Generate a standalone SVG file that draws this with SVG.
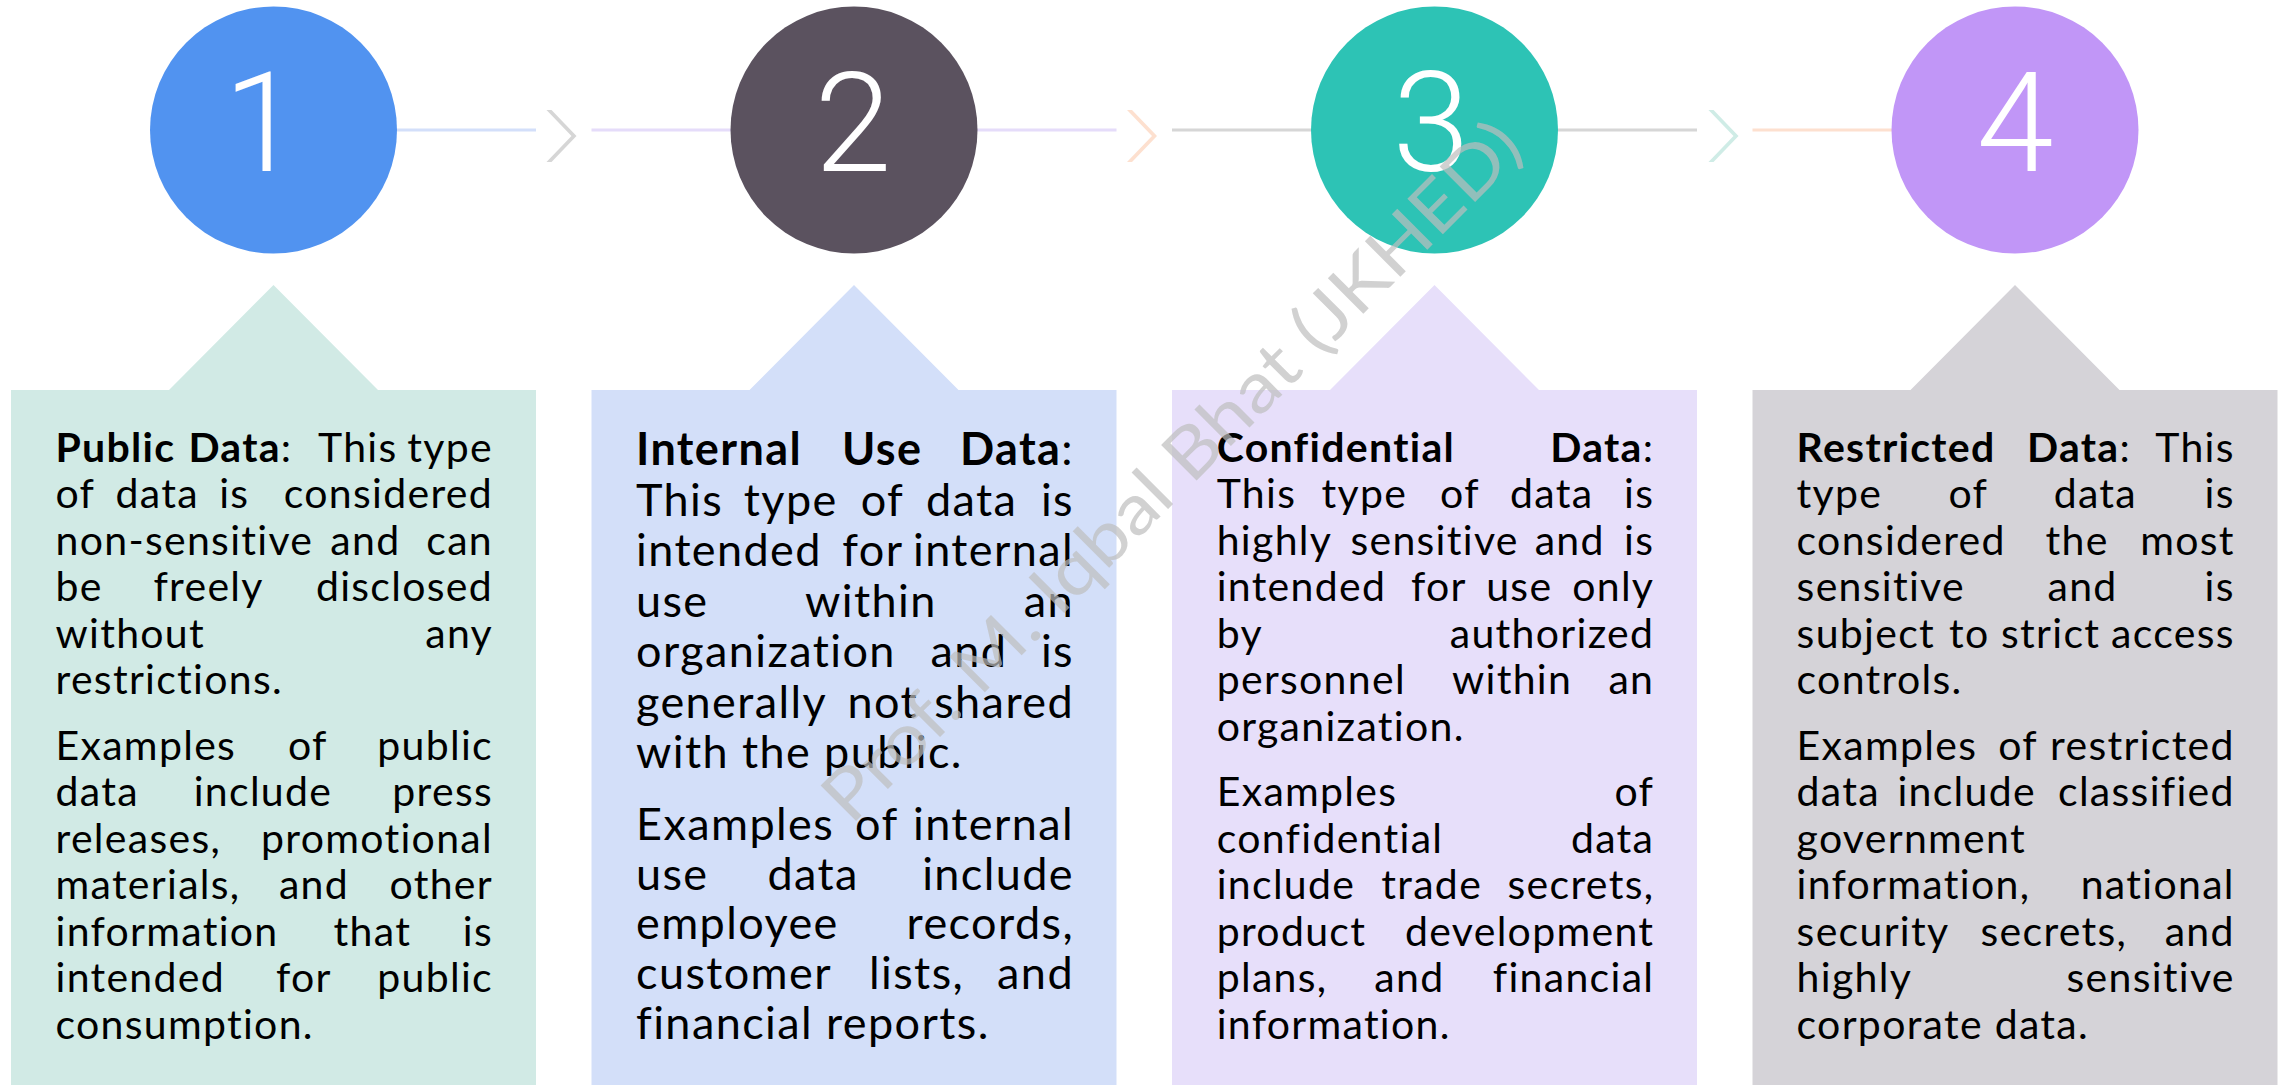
<svg xmlns="http://www.w3.org/2000/svg" width="2282" height="1085" viewBox="0 0 2282 1085">
  <style>
    .num { font-family: Roboto, Lato, "Open Sans", sans-serif; font-weight: 300; font-size: 139px; fill: #ffffff; text-anchor: middle; }
    .t { font-family: Lato, "Open Sans", "Liberation Sans", sans-serif; font-size: 41px; letter-spacing: 1.3px; fill: #000000; font-variant-ligatures: none; }
    .t2 { font-family: Lato, "Open Sans", "Liberation Sans", sans-serif; font-size: 45px; letter-spacing: 1.4px; fill: #000000; font-variant-ligatures: none; }
    .b { font-weight: 700; }
    .e { text-anchor: end; }
    .wm { font-family: Lato, "Open Sans", "Liberation Sans", sans-serif; font-size: 70px; fill: #bdbdbd; fill-opacity: 0.7; }
  </style>

  <!-- connectors: thin rules between the circles with chevrons in the gaps -->
  <g id="connectors">
    <rect x="397" y="128.5" width="139" height="3" fill="#d3dffa"/>
    <polygon points="546.5,110 551.5,110 576.5,136 551.5,162 546.5,162 571.5,136" fill="#d6d6d6"/>
    <rect x="591.5" y="128.5" width="140" height="3" fill="#e5dcfa"/>

    <rect x="977" y="128.5" width="139.5" height="3" fill="#e5dcfa"/>
    <polygon points="1127,110 1132,110 1157,136 1132,162 1127,162 1152,136" fill="#fde0cf"/>
    <rect x="1172" y="128.5" width="140" height="3" fill="#d6d6d6"/>

    <rect x="1557" y="128.5" width="140" height="3" fill="#d6d6d6"/>
    <polygon points="1708.5,110 1713.5,110 1738.5,136 1713.5,162 1708.5,162 1733.5,136" fill="#cfece6"/>
    <rect x="1752.5" y="128.5" width="140" height="3" fill="#fde0cf"/>
  </g>

  <!-- 1: public data -->
  <g id="node-1">
    <path d="M11,390 H169 L273.5,285 L378,390 H536 V1085 H11 Z" fill="#d1eae5"/>
    <circle cx="273.5" cy="130" r="123.5" fill="#5193f0"/>
    <text class="num" x="262" y="171">1</text>
    <text class="t" y="461.5"><tspan x="55.5" class="b">Public</tspan><tspan x="188.4" class="b">Data</tspan><tspan>:</tspan><tspan x="318">This</tspan><tspan x="493" class="e">type</tspan></text>
    <text class="t" y="508"><tspan x="55.5">of</tspan><tspan x="115.6">data</tspan><tspan x="219.2">is</tspan><tspan x="493" class="e">considered</tspan></text>
    <text class="t" y="554.5"><tspan x="55.5">non-sensitive</tspan><tspan x="330.3">and</tspan><tspan x="493" class="e">can</tspan></text>
    <text class="t" y="601"><tspan x="55.5">be</tspan><tspan x="153.4">freely</tspan><tspan x="493" class="e">disclosed</tspan></text>
    <text class="t" y="647.5"><tspan x="55.5">without</tspan><tspan x="493" class="e">any</tspan></text>
    <text class="t" x="55.5" y="694">restrictions.</text>
    <text class="t" y="759.5"><tspan x="55.5">Examples</tspan><tspan x="288">of</tspan><tspan x="493" class="e">public</tspan></text>
    <text class="t" y="806"><tspan x="55.5">data</tspan><tspan x="193.7">include</tspan><tspan x="493" class="e">press</tspan></text>
    <text class="t" y="852.5"><tspan x="55.5">releases,</tspan><tspan x="493" class="e">promotional</tspan></text>
    <text class="t" y="899"><tspan x="55.5">materials,</tspan><tspan x="278.9">and</tspan><tspan x="493" class="e">other</tspan></text>
    <text class="t" y="945.5"><tspan x="55.5">information</tspan><tspan x="333.6">that</tspan><tspan x="493" class="e">is</tspan></text>
    <text class="t" y="992"><tspan x="55.5">intended</tspan><tspan x="276">for</tspan><tspan x="493" class="e">public</tspan></text>
    <text class="t" x="55.5" y="1038.5">consumption.</text>
  </g>

  <!-- 2: internal use data -->
  <g id="node-2">
    <path d="M591.5,390 H749.5 L854,285 L958.5,390 H1116.5 V1085 H591.5 Z" fill="#d3dff9"/>
    <circle cx="854" cy="130" r="123.5" fill="#5b525f"/>
    <text class="num" x="853" y="171">2</text>
    <text class="t2" y="465"><tspan x="636" class="b">Internal</tspan><tspan x="842" class="b">Use</tspan><tspan x="1074" class="e b">Data</tspan><tspan>:</tspan></text>
    <text class="t2" y="515.5"><tspan x="636">This</tspan><tspan x="743.8">type</tspan><tspan x="860.7">of</tspan><tspan x="926">data</tspan><tspan x="1074" class="e">is</tspan></text>
    <text class="t2" y="566"><tspan x="636">intended</tspan><tspan x="842.3">for</tspan><tspan x="1074" class="e">internal</tspan></text>
    <text class="t2" y="616.5"><tspan x="636">use</tspan><tspan x="805">within</tspan><tspan x="1074" class="e">an</tspan></text>
    <text class="t2" y="667"><tspan x="636">organization</tspan><tspan x="930.5">and</tspan><tspan x="1074" class="e">is</tspan></text>
    <text class="t2" y="717.5"><tspan x="636">generally</tspan><tspan x="847.5">not</tspan><tspan x="1074" class="e">shared</tspan></text>
    <text class="t2" x="636" y="768">with the public.</text>
    <text class="t2" y="840"><tspan x="636">Examples</tspan><tspan x="855">of</tspan><tspan x="1074" class="e">internal</tspan></text>
    <text class="t2" y="889.5"><tspan x="636">use</tspan><tspan x="767.5">data</tspan><tspan x="1074" class="e">include</tspan></text>
    <text class="t2" y="939"><tspan x="636">employee</tspan><tspan x="1074" class="e">records,</tspan></text>
    <text class="t2" y="988.5"><tspan x="636">customer</tspan><tspan x="869">lists,</tspan><tspan x="1074" class="e">and</tspan></text>
    <text class="t2" x="636" y="1038.5">financial reports.</text>
  </g>

  <!-- 3: confidential data -->
  <g id="node-3">
    <path d="M1172,390 H1330 L1434.5,285 L1539,390 H1697 V1085 H1172 Z" fill="#e7dffa"/>
    <circle cx="1434.5" cy="130" r="123.5" fill="#2dc3b5"/>
    <text class="num" x="1431" y="171">3</text>
    <text class="t" y="461.5"><tspan x="1216.7" class="b">Confidential</tspan><tspan x="1654.3" class="e b">Data</tspan><tspan>:</tspan></text>
    <text class="t" y="508"><tspan x="1216.7">This</tspan><tspan x="1321.6">type</tspan><tspan x="1440.1">of</tspan><tspan x="1510">data</tspan><tspan x="1654.3" class="e">is</tspan></text>
    <text class="t" y="554.5"><tspan x="1216.7">highly</tspan><tspan x="1350.4">sensitive</tspan><tspan x="1534.7">and</tspan><tspan x="1654.3" class="e">is</tspan></text>
    <text class="t" y="601"><tspan x="1216.7">intended</tspan><tspan x="1410.9">for</tspan><tspan x="1486.2">use</tspan><tspan x="1654.3" class="e">only</tspan></text>
    <text class="t" y="647.5"><tspan x="1216.7">by</tspan><tspan x="1654.3" class="e">authorized</tspan></text>
    <text class="t" y="694"><tspan x="1216.7">personnel</tspan><tspan x="1452">within</tspan><tspan x="1654.3" class="e">an</tspan></text>
    <text class="t" x="1216.7" y="740.5">organization.</text>
    <text class="t" y="806"><tspan x="1216.7">Examples</tspan><tspan x="1654.3" class="e">of</tspan></text>
    <text class="t" y="852.5"><tspan x="1216.7">confidential</tspan><tspan x="1654.3" class="e">data</tspan></text>
    <text class="t" y="899"><tspan x="1216.7">include</tspan><tspan x="1381.3">trade</tspan><tspan x="1654.3" class="e">secrets,</tspan></text>
    <text class="t" y="945.5"><tspan x="1216.7">product</tspan><tspan x="1654.3" class="e">development</tspan></text>
    <text class="t" y="992"><tspan x="1216.7">plans,</tspan><tspan x="1374.3">and</tspan><tspan x="1654.3" class="e">financial</tspan></text>
    <text class="t" x="1216.7" y="1038.5">information.</text>
  </g>

  <!-- 4: restricted data -->
  <g id="node-4">
    <path d="M1752.5,390 H1910.5 L2015,285 L2119.5,390 H2277.5 V1085 H1752.5 Z" fill="#d5d3d8"/>
    <circle cx="2015" cy="130" r="123.5" fill="#c196f7"/>
    <text class="num" x="2015" y="171">4</text>
    <text class="t" y="461.5"><tspan x="1796.6" class="b">Restricted</tspan><tspan x="2027" class="b">Data</tspan><tspan>:</tspan><tspan x="2234.8" class="e">This</tspan></text>
    <text class="t" y="508"><tspan x="1796.6">type</tspan><tspan x="1948.4">of</tspan><tspan x="2053.7">data</tspan><tspan x="2234.8" class="e">is</tspan></text>
    <text class="t" y="554.5"><tspan x="1796.6">considered</tspan><tspan x="2045.5">the</tspan><tspan x="2234.8" class="e">most</tspan></text>
    <text class="t" y="601"><tspan x="1796.6">sensitive</tspan><tspan x="2047.5">and</tspan><tspan x="2234.8" class="e">is</tspan></text>
    <text class="t" y="647.5"><tspan x="1796.6">subject</tspan><tspan x="1949">to</tspan><tspan x="2001">strict</tspan><tspan x="2234.8" class="e">access</tspan></text>
    <text class="t" x="1796.6" y="694">controls.</text>
    <text class="t" y="759.5"><tspan x="1796.6">Examples</tspan><tspan x="1998.2">of</tspan><tspan x="2234.8" class="e">restricted</tspan></text>
    <text class="t" y="806"><tspan x="1796.6">data</tspan><tspan x="1897.4">include</tspan><tspan x="2234.8" class="e">classified</tspan></text>
    <text class="t" x="1796.6" y="852.5">government</text>
    <text class="t" y="899"><tspan x="1796.6">information,</tspan><tspan x="2234.8" class="e">national</tspan></text>
    <text class="t" y="945.5"><tspan x="1796.6">security</tspan><tspan x="1980.5">secrets,</tspan><tspan x="2234.8" class="e">and</tspan></text>
    <text class="t" y="992"><tspan x="1796.6">highly</tspan><tspan x="2234.8" class="e">sensitive</tspan></text>
    <text class="t" x="1796.6" y="1038.5">corporate data.</text>
  </g>

  <!-- diagonal author credit laid over the layout -->
  <g id="watermark">
    <text class="wm" x="0" y="0" transform="translate(851,826) rotate(-45)" textLength="955" lengthAdjust="spacingAndGlyphs">Prof. M. Iqbal Bhat (JKHED)</text>
  </g>
</svg>
